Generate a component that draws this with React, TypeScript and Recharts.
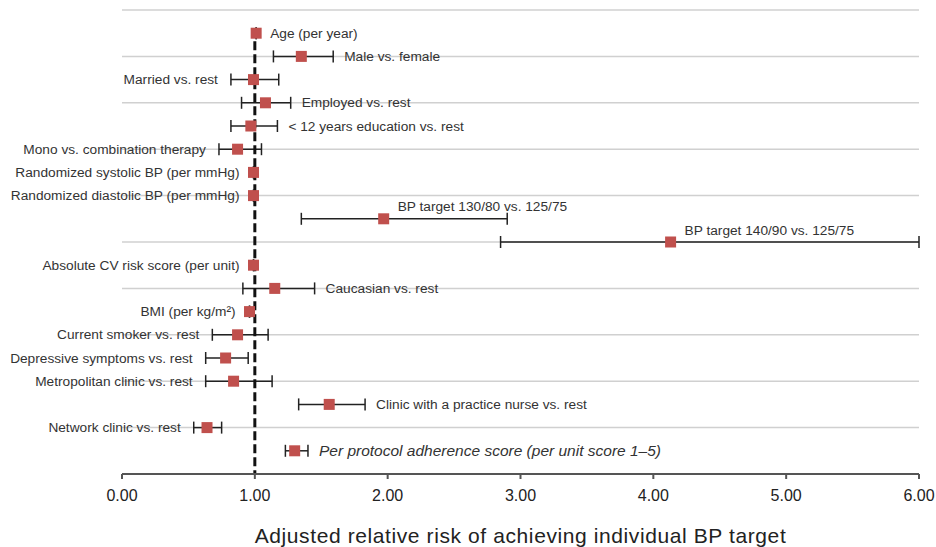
import React from "react";
import {
  CartesianGrid,
  ComposedChart,
  ErrorBar,
  ReferenceLine,
  Scatter,
  XAxis,
  YAxis
} from "recharts";

const labels = [
  "Age (per year)",
  "Male vs. female",
  "Married vs. rest",
  "Employed vs. rest",
  "< 12 years education vs. rest",
  "Mono vs. combination therapy",
  "Randomized systolic BP (per mmHg)",
  "Randomized diastolic BP (per mmHg)",
  "BP target 130/80 vs. 125/75",
  "BP target 140/90 vs. 125/75",
  "Absolute CV risk score (per unit)",
  "Caucasian vs. rest",
  "BMI (per kg/m²)",
  "Current smoker vs. rest",
  "Depressive symptoms vs. rest",
  "Metropolitan clinic vs. rest",
  "Clinic with a practice nurse vs. rest",
  "Network clinic vs. rest",
  "Per protocol adherence score (per unit score 1–5)"
];

const estimates = [1.01, 1.35, 0.99, 1.08, 0.97, 0.87, 0.99, 0.99, 1.97, 4.13, 0.99, 1.15, 0.96, 0.87, 0.78, 0.84, 1.56, 0.64, 1.3];
const lower = [1.01, 1.14, 0.82, 0.9, 0.82, 0.73, 0.99, 0.99, 1.35, 2.85, 0.99, 0.91, 0.96, 0.68, 0.63, 0.63, 1.33, 0.54, 1.23];
const upper = [1.01, 1.59, 1.18, 1.27, 1.17, 1.05, 0.99, 0.99, 2.9, 6.0, 0.99, 1.45, 0.96, 1.1, 0.95, 1.13, 1.83, 0.75, 1.4];
const labelSide = [
  "right", "right", "left", "right", "right", "left", "left", "left", "above", "above",
  "left", "right", "left", "left", "left", "left", "right", "left", "right"
];

const xTicks = [0, 1, 2, 3, 4, 5, 6];
const gridRows = [-1, 1, 3, 5, 7, 9, 11, 13, 15, 17];

const FONT = "'Liberation Sans', Arial, sans-serif";
const RED = "#c0504d";

// the adherence row is set larger and in italics in the original
const labelOverrides: Record<string, { size: number; italic?: boolean }> = {
  "Per protocol adherence score (per unit score 1–5)": { size: 15.5, italic: true }
};

const points = labels.map((name, i) => ({
  name,
  x: estimates[i],
  y: i,
  err: [estimates[i] - lower[i], upper[i] - estimates[i]]
}));

const labelPoints = labels.map((name, i) => {
  const side = labelSide[i];
  return {
    name,
    side,
    noCi: lower[i] === upper[i],
    x: side === "left" ? lower[i] : side === "right" ? upper[i] : estimates[i],
    y: i
  };
});

function SquareMark(props: any) {
  const { cx, cy } = props;
  return <rect x={cx - 5.5} y={cy - 5.5} width={11} height={11} fill={RED} />;
}

function LabelMark(props: any) {
  const { cx, cy, payload } = props;
  const o = labelOverrides[payload.name] || { size: 13.7 };
  let x = cx;
  let y = cy;
  let anchor: "start" | "end" = "start";
  if (payload.side === "left") {
    x = cx - (payload.noCi ? 14 : 13);
    anchor = "end";
  } else if (payload.side === "right") {
    x = cx + (payload.noCi ? 14 : 11);
  } else {
    x = cx + 14;
    y = cy - 12;
  }
  return (
    <text
      x={x}
      y={y}
      textAnchor={anchor}
      dominantBaseline="central"
      fontFamily={FONT}
      fontSize={o.size}
      fontStyle={o.italic ? "italic" : "normal"}
      fill="#333"
    >
      {payload.name}
    </text>
  );
}

export default function App() {
  return (
    <div style={{ position: "absolute", left: 0, top: 0, background: "#fff" }}>
      <ComposedChart
        width={936}
        height={547}
        margin={{ top: 10, right: 17, bottom: 7, left: 122 }}
      >
        <CartesianGrid vertical={false} stroke="#d0d0d0" strokeWidth={1.5} />
        <XAxis
          type="number"
          dataKey="x"
          domain={[0, 6]}
          ticks={xTicks}
          tickFormatter={(v: number) => v.toFixed(2)}
          height={66}
          stroke="#555"
          strokeWidth={2}
          tickSize={5}
          tickMargin={11}
          tick={{ fontSize: 16, fill: "#222", fontFamily: FONT }}
          label={{
            value: "Adjusted relative risk of achieving individual BP target",
            position: "insideBottom",
            offset: -3,
            fontSize: 21,
            letterSpacing: 0.6,
            fill: "#222",
            fontFamily: FONT
          }}
        />
        <YAxis type="number" dataKey="y" domain={[-1, 19]} ticks={gridRows} reversed hide />
        <Scatter data={points} shape={<SquareMark />} isAnimationActive={false}>
          <ErrorBar dataKey="err" direction="x" width={6} stroke="#222" strokeWidth={1.5} />
        </Scatter>
        <Scatter data={labelPoints} shape={<LabelMark />} isAnimationActive={false} />
        <ReferenceLine
          segment={[{ x: 1, y: 0.35 }, { x: 1, y: 19 }]}
          stroke="#111"
          strokeWidth={3}
          strokeDasharray="9 4"
        />
      </ComposedChart>
    </div>
  );
}
